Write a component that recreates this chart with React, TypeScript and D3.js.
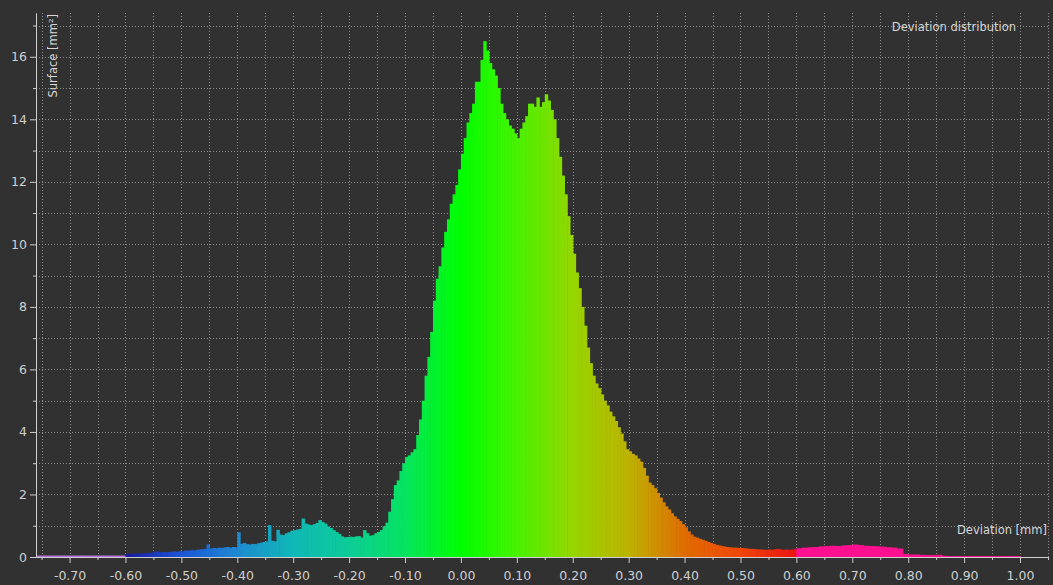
import React, { useEffect, useRef } from 'react';
import * as d3 from 'd3';

const WIDTH = 1053;
const HEIGHT = 585;

// values below the colour range (drawn violet)
const underStart = -0.76;
const underStep = 0.04;
const underValues = [0.05, 0.05, 0.05, 0.05];

// histogram inside the colour range, surface in mm² per 0.005 mm bin
const mainStart = -0.6;
const mainStep = 0.005;
const mainValues = [
  0.10, 0.10, 0.11, 0.10, 0.12, 0.11, 0.12, 0.13, 0.12, 0.14, // -0.60
  0.17, 0.18, 0.15, 0.16, 0.15, 0.16, 0.17, 0.18, 0.17, 0.19, // -0.55
  0.18, 0.21, 0.20, 0.22, 0.21, 0.23, 0.24, 0.25, 0.26, 0.40, // -0.50
  0.27, 0.29, 0.28, 0.30, 0.29, 0.31, 0.32, 0.30, 0.32, 0.31, // -0.45
  0.79, 0.42, 0.45, 0.41, 0.40, 0.42, 0.41, 0.44, 0.46, 0.48, // -0.40
  0.50, 1.02, 0.52, 0.50, 0.87, 0.72, 0.70, 0.76, 0.79, 0.84, // -0.35
  0.86, 0.88, 0.90, 1.23, 1.07, 1.04, 1.02, 1.05, 1.09, 1.18, // -0.30
  1.12, 1.07, 0.98, 0.93, 0.86, 0.80, 0.74, 0.66, 0.63, 0.64, // -0.25
  0.65, 0.64, 0.66, 0.67, 0.62, 0.86, 0.76, 0.68, 0.70, 0.76, // -0.20
  0.80, 0.86, 0.98, 1.10, 1.45, 1.85, 2.30, 2.45, 2.75, 3.00, // -0.15
  3.20, 3.25, 3.35, 3.45, 3.90, 4.40, 5.00, 5.80, 6.40, 7.20, // -0.10
  8.20, 8.90, 9.30, 9.90, 10.40, 10.80, 11.30, 11.60, 11.90, 12.40, // -0.05
  12.90, 13.40, 13.90, 14.20, 14.50, 15.20, 15.20, 15.90, 16.50, 16.20, // 0.00
  15.80, 15.60, 15.40, 15.00, 14.50, 14.20, 14.00, 13.80, 13.70, 13.55, // 0.05
  13.40, 13.70, 13.90, 14.10, 14.50, 14.50, 14.40, 14.70, 14.40, 14.55, // 0.10
  14.80, 14.60, 14.30, 14.00, 13.40, 12.80, 12.20, 11.60, 10.90, 10.30, // 0.15
  9.70, 9.10, 8.60, 8.00, 7.40, 6.70, 6.20, 5.80, 5.55, 5.40, // 0.20
  5.20, 5.00, 4.85, 4.65, 4.50, 4.35, 4.15, 3.95, 3.70, 3.45, // 0.25
  3.38, 3.30, 3.25, 3.15, 3.05, 2.85, 2.60, 2.38, 2.30, 2.20, // 0.30
  2.05, 1.90, 1.75, 1.62, 1.52, 1.40, 1.30, 1.22, 1.15, 1.05, // 0.35
  0.95, 0.82, 0.72, 0.65, 0.62, 0.58, 0.55, 0.52, 0.48, 0.45, // 0.40
  0.42, 0.39, 0.37, 0.35, 0.33, 0.32, 0.31, 0.30, 0.30, 0.29, // 0.45
  0.29, 0.28, 0.27, 0.26, 0.26, 0.25, 0.24, 0.24, 0.23, 0.23, // 0.50
  0.24, 0.23, 0.25, 0.26, 0.24, 0.23, 0.24, 0.23, 0.24, 0.25, // 0.55
];

// values above the colour range (drawn pink)
const overStart = 0.6;
const overStep = 0.01;
const overValues = [
  0.28, 0.30, 0.31, 0.32, 0.34, 0.35, 0.36, 0.35, 0.37, 0.38, // 0.60
  0.40, 0.38, 0.36, 0.35, 0.34, 0.33, 0.31, 0.30, 0.27, 0.10, // 0.70
  0.08, 0.08, 0.07, 0.06, 0.06, 0.07, 0.04, 0.03, 0.03, 0.03, // 0.80
  0.03, 0.03, 0.03, 0.03, 0.03, 0.03, 0.03, 0.03, 0.03, 0.03, // 0.90
];

// deviation colour legend
const colorStops = [-0.6, -0.5, -0.4, -0.3, -0.2, -0.1, 0, 0.1, 0.2, 0.3, 0.4, 0.5, 0.6];
const colorValues = [
  '#1a1a9c', '#1c55d8', '#1e8ad2', '#10b8b6', '#0ccd98', '#06e460', '#00ff00',
  '#48f200', '#96d600', '#bcb200', '#e06c00', '#f04606', '#e81414',
];
const underColor = '#b070d8';
const overColor = '#ff1090';

const xTicks = [-0.7, -0.6, -0.5, -0.4, -0.3, -0.2, -0.1, 0, 0.1, 0.2, 0.3, 0.4, 0.5, 0.6, 0.7, 0.8, 0.9, 1.0];
const xMinorTicks = [-0.75, -0.65, -0.55, -0.45, -0.35, -0.25, -0.15, -0.05, 0.05, 0.15, 0.25, 0.35, 0.45, 0.55, 0.65, 0.75, 0.85, 0.95, 1.05];
const yTicks = [0, 2, 4, 6, 8, 10, 12, 14, 16];
const yMinorTicks = [1, 3, 5, 7, 9, 11, 13, 15, 17];

interface Bin {
  x0: number;
  x1: number;
  value: number;
  fill: string;
}

const App: React.FC = () => {
  const svgRef = useRef<SVGSVGElement>(null);

  useEffect(() => {
    if (!svgRef.current) return;

    const svg = d3.select(svgRef.current);
    svg.selectAll('*').remove();

    const xScale = d3.scaleLinear().domain([-0.76, 1.05]).range([36, 1048]);
    const yScale = d3.scaleLinear().domain([0, 17.4]).range([557, 13]);

    const colorScale = d3.scaleLinear<string>()
      .domain(colorStops)
      .range(colorValues)
      .interpolate(d3.interpolateRgb)
      .clamp(true);

    svg.append('rect')
      .attr('width', WIDTH)
      .attr('height', HEIGHT)
      .attr('fill', '#313131');

    // dotted grid
    const grid = svg.append('g')
      .attr('stroke', '#8c8c8c')
      .attr('stroke-width', 1)
      .attr('stroke-dasharray', '1,2');

    grid.selectAll('line.h')
      .data(d3.merge([yTicks.slice(1), yMinorTicks]))
      .enter()
      .append('line')
      .attr('class', 'h')
      .attr('x1', xScale(-0.76))
      .attr('x2', xScale(1.05))
      .attr('y1', d => Math.round(yScale(d)) + 0.5)
      .attr('y2', d => Math.round(yScale(d)) + 0.5);

    grid.selectAll('line.v')
      .data(d3.merge([xTicks, xMinorTicks]))
      .enter()
      .append('line')
      .attr('class', 'v')
      .attr('x1', d => Math.round(xScale(d)) + 0.5)
      .attr('x2', d => Math.round(xScale(d)) + 0.5)
      .attr('y1', yScale(17.4))
      .attr('y2', yScale(0));

    // histogram bins
    const bins: Bin[] = [
      ...underValues.map((v, i) => ({
        x0: underStart + i * underStep,
        x1: underStart + (i + 1) * underStep,
        value: v,
        fill: underColor
      })),
      ...mainValues.map((v, i) => {
        const x0 = mainStart + i * mainStep;
        return { x0, x1: x0 + mainStep, value: v, fill: colorScale(x0 + mainStep / 2) };
      }),
      ...overValues.map((v, i) => ({
        x0: overStart + i * overStep,
        x1: overStart + (i + 1) * overStep,
        value: v,
        fill: overColor
      }))
    ];

    svg.append('g')
      .attr('class', 'bins')
      .selectAll('rect')
      .data(bins)
      .enter()
      .append('rect')
      .attr('x', d => xScale(d.x0))
      .attr('width', d => xScale(d.x1) - xScale(d.x0) + 0.6)
      .attr('y', d => yScale(d.value))
      .attr('height', d => yScale(0) - yScale(d.value))
      .attr('fill', d => d.fill);

    const axisColor = '#cfcfcf';
    const font = '"DejaVu Sans", Verdana, sans-serif';

    const styleAxis = (g: d3.Selection<SVGGElement, unknown, null, undefined>) => {
      g.selectAll('path').attr('stroke', axisColor);
      g.selectAll('line').attr('stroke', axisColor);
      g.selectAll('text')
        .attr('fill', axisColor)
        .style('font-family', font)
        .style('font-size', '12.5px');
    };

    // y axis
    const yAxisG = svg.append('g')
      .attr('transform', `translate(${xScale(-0.76)},0)`)
      .call(d3.axisLeft(yScale).tickValues(yTicks).tickSize(6).tickSizeOuter(0).tickFormat(d3.format('d')));
    styleAxis(yAxisG);

    const yMinorG = svg.append('g')
      .attr('transform', `translate(${xScale(-0.76)},0)`)
      .call(d3.axisLeft(yScale).tickValues(yMinorTicks).tickSize(3).tickSizeOuter(0).tickFormat(() => ''));
    styleAxis(yMinorG);

    // x axis
    const xAxisG = svg.append('g')
      .attr('transform', `translate(0,${yScale(0)})`)
      .call(d3.axisBottom(xScale).tickValues(xTicks).tickSize(6).tickSizeOuter(0).tickPadding(8)
        .tickFormat(d => (d as number).toFixed(2)));
    styleAxis(xAxisG);

    const xMinorG = svg.append('g')
      .attr('transform', `translate(0,${yScale(0)})`)
      .call(d3.axisBottom(xScale).tickValues(xMinorTicks).tickSize(3).tickSizeOuter(0).tickFormat(() => ''));
    styleAxis(xMinorG);

    // labels
    svg.append('text')
      .attr('x', 1016)
      .attr('y', 30.5)
      .attr('text-anchor', 'end')
      .attr('fill', '#d6d6d6')
      .style('font-family', font)
      .style('font-size', '11.5px')
      .text('Deviation distribution');

    svg.append('text')
      .attr('x', 1047)
      .attr('y', 534)
      .attr('text-anchor', 'end')
      .attr('fill', '#d6d6d6')
      .style('font-family', font)
      .style('font-size', '11.5px')
      .text('Deviation [mm]');

    svg.append('text')
      .attr('transform', 'translate(57,14) rotate(-90)')
      .attr('text-anchor', 'end')
      .attr('fill', '#d6d6d6')
      .style('font-family', font)
      .style('font-size', '11.5px')
      .text('Surface [mm²]');
  }, []);

  return (
    <div style={{ position: 'absolute', left: 0, top: 0 }}>
      <svg ref={svgRef} width={WIDTH} height={HEIGHT} style={{ display: 'block' }} />
    </div>
  );
};

export default App;
